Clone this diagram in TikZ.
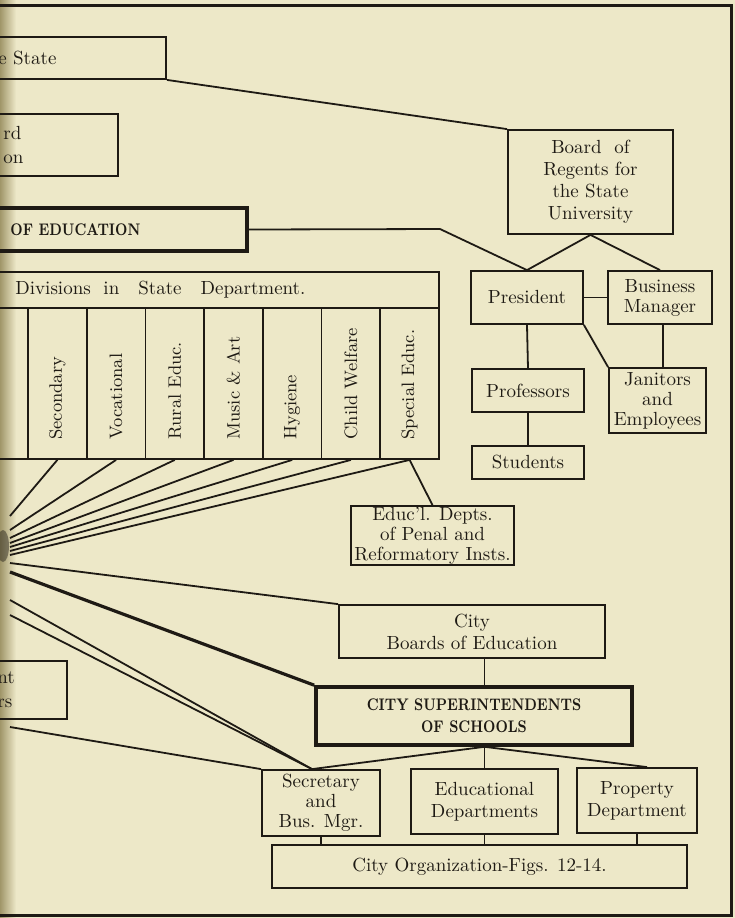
\documentclass[tikz,border=0pt]{standalone}
\usepackage{graphicx}
\usetikzlibrary{positioning,calc}
\definecolor{paper}{RGB}{237,232,200}
\definecolor{ink}{RGB}{30,26,20}
\definecolor{gutter}{RGB}{160,150,105}
\newcommand{\narrowcaps}[1]{\scalebox{0.8}[1]{#1}}
\begin{document}
\begin{tikzpicture}[x=0.5pt,y=-0.5pt,font=\fontsize{9.5}{10}\selectfont,
  box/.style={draw=ink,line width=0.9pt,inner sep=0pt,align=center,text=ink},
  heavybox/.style={box,line width=1.8pt},
  link/.style={draw=ink,line width=0.9pt},
  heavylink/.style={draw=ink,line width=1.6pt},
  cuttext/.style={anchor=west,inner sep=0pt,align=left,text=ink},
  bigcaps/.style={font=\fontsize{8.4}{11}\selectfont\bfseries},
  coltext/.style={rotate=90,anchor=west,inner sep=0pt,text=ink,font=\fontsize{9}{11}\selectfont}]
\useasboundingbox (0,0) rectangle (735,918);
\fill[paper] (0,0) rectangle (735,918);
\clip (0,0) rectangle (735,918);
\fill[left color=gutter,right color=paper] (0,0) rectangle (16,918);

% boxes cut by the left page edge
\node[box,minimum width=86pt,minimum height=21pt] (state) at (80,58) {};
\node[cuttext] at (-2,58) {e State};
\node[box,minimum width=62pt,minimum height=31pt] (board) at (56,145) {};
\node[cuttext] at (3,145) {rd\\[2pt]on};
\node[heavybox,minimum width=126.5pt,minimum height=21.5pt] (edu) at (120.5,229.5) {};
\node[cuttext,bigcaps] at (10,230) {\narrowcaps{OF EDUCATION}};
\node[box,minimum width=36.5pt,minimum height=29pt] (ntb) at (30.5,690) {};
\node[cuttext] at (-3,690) {nt\\[2pt]rs};

% state university
\node[box,minimum width=82.5pt,minimum height=52pt] (regents) at (590.5,182)
  {Board\ \ of\\[1pt]Regents for\\[1pt]the State\\[1pt]University};
\node[box,minimum width=56pt,minimum height=26.5pt] (pres) at (527,297.5) {President};
\node[box,minimum width=52pt,minimum height=26.5pt] (busm) at (660,297.5) {Business\\Manager};
\node[box,minimum width=56pt,minimum height=21.5pt] (prof) at (528,390.5) {Professors};
\node[box,minimum width=56pt,minimum height=16.5pt] (stud) at (528,462.5) {Students};
\node[box,minimum width=48.5pt,minimum height=32.5pt] (jan) at (657.5,400.5) {Janitors\\and\\Employees};

% divisions
\node[box,minimum width=222.5pt,minimum height=18pt] (divhead) at (216.5,290) {};
\node[cuttext] at (15,290) {Divisions\ \ in\ \ \ State\ \ \ Department.};
\node[box,minimum width=17pt,minimum height=75.5pt] (c0) at (11,383.5) {};
\foreach \name [count=\i] in {Secondary,Vocational,Rural Educ.,Music \& Art,Hygiene,Child Welfare,Special Educ.} {
  \node[box,minimum width=29.36pt,minimum height=75.5pt] (c\i) at ({28+58.71*(\i-0.5)},383.5) {};
  \node[coltext] at ({28+58.71*(\i-0.5)},440) {\name};
}
\node[box,minimum width=81.5pt,minimum height=29.5pt] (penal) at (432.5,535.5)
  {Educ'l. Depts.\\of Penal and\\Reformatory Insts.};

% city
\node[box,minimum width=133pt,minimum height=26.5pt] (boards) at (472,631.5) {City\\[1pt]Boards of Education};
\node[heavybox,minimum width=158pt,minimum height=29pt,bigcaps] (sup) at (474,716)
  {\narrowcaps{CITY SUPERINTENDENTS}\\\narrowcaps{OF SCHOOLS}};
\node[box,minimum width=59pt,minimum height=33pt] (sec) at (321,803) {Secretary\\and\\Bus. Mgr.};
\node[box,minimum width=73.5pt,minimum height=32.5pt] (edd) at (484.5,801.5) {Educational\\[1pt]Departments};
\node[box,minimum width=60pt,minimum height=32.5pt] (prop) at (637,800.5) {Property\\[1pt]Department};
\node[box,minimum width=207.5pt,minimum height=21.5pt] (city) at (479.5,866.5) {City Organization-Figs. 12-14.};

% free ends at the cut edge
\foreach \i/\y in {1/516,2/530,3/538,4/543,5/547,6/551,7/555} {
  \coordinate (e\i) at (10,\y);
  \draw[link] (c\i.south) -- (e\i);
}
\coordinate (eb) at (10,563);
\coordinate (es) at (10,572);
\coordinate (ec1) at (10,600);
\coordinate (ec2) at (10,615);
\coordinate (ec3) at (10,727);
\fill[ink,opacity=0.45] (3,546) ellipse (3pt and 8pt);

% connectors
\coordinate (bend) at (440,229);
\coordinate (sectop) at ([xshift=-4.5pt]sec.north);
\coordinate (proptop) at ([xshift=5pt]prop.north);
\draw[link] (state.south east) -- (regents.north west);
\draw[link] (edu.east) -- (bend) -- (pres.north);
\draw[link] (regents.south) -- (pres.north);
\draw[link] (regents.south) -- (busm.north);
\draw[link] (pres.east) -- (busm.west);
\draw[link] (pres.south) -- (prof.north);
\draw[link] (prof.south) -- (stud.north);
\draw[link] (pres.south east) -- (jan.north west);
\draw[link] ([xshift=1.5pt]busm.south) -- ([xshift=1.5pt]busm.south |- jan.north);
\draw[link] (c7.south) -- (penal.north);
\draw[link] (eb) -- (boards.north west);
\draw[heavylink] (es) -- (sup.north west);
\draw[link] (ec1) -- (sectop);
\draw[link] (ec2) -- (sectop);
\draw[link] (ec3) -- (sec.north west);
\draw[link] (boards.south -| edd.north) -- (sup.north -| edd.north);
\draw[link] (sup.south -| edd.north) -- (edd.north);
\draw[link] (sup.south -| edd.north) -- (sectop);
\draw[link] (sup.south -| edd.north) -- (proptop);
\draw[link] (sec.south) -- (sec.south |- city.north);
\draw[link] (edd.south) -- (edd.south |- city.north);
\draw[link] (prop.south) -- (prop.south |- city.north);

% frame
\draw[ink,line width=1.5pt] (0,5) -- (731,5) -- (731,915) -- (0,915);
\end{tikzpicture}
\end{document}
